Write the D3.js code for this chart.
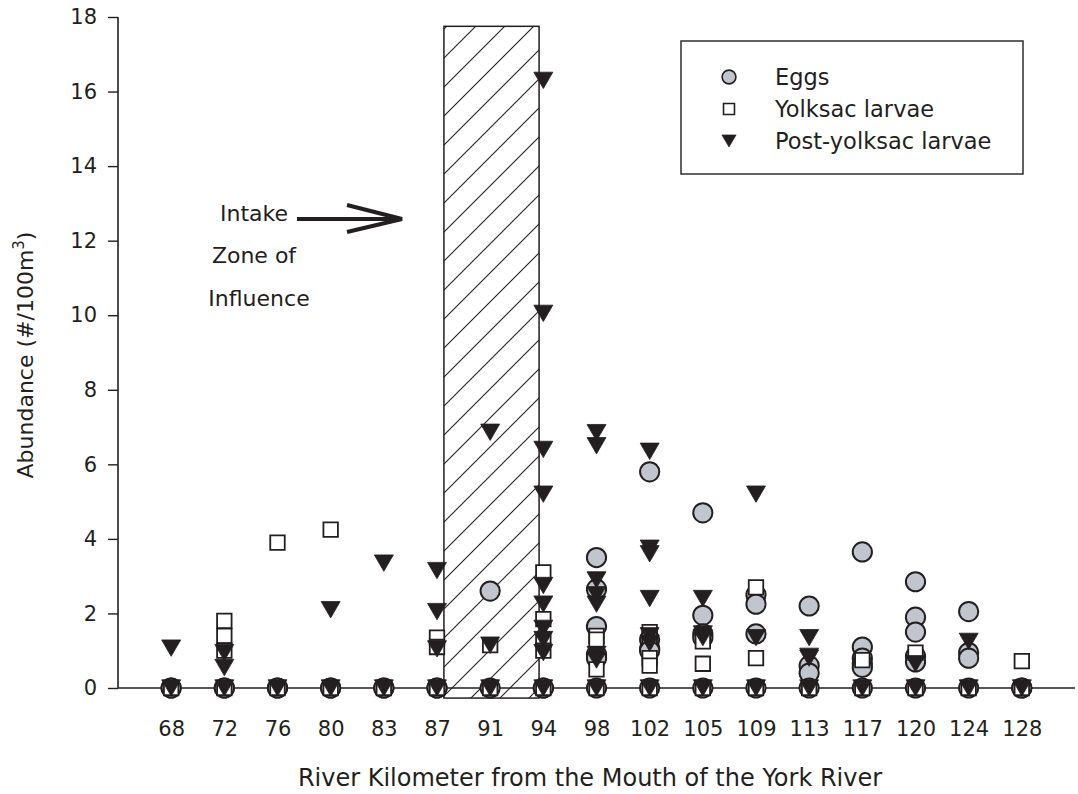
<!DOCTYPE html>
<html>
<head>
<meta charset="utf-8">
<script src="https://cdn.jsdelivr.net/npm/d3@7"></script>
<style>
  body { margin: 0; background: #fff; }
  svg text { font-family: "DejaVu Sans", sans-serif; fill: #231f20; }
</style>
</head>
<body>
<svg id="chart" width="1078" height="794"></svg>
<script>
// River kilometres (categorical axis)
const kms = ["68", "72", "76", "80", "83", "87", "91", "94", "98", "102", "105", "109", "113", "117", "120", "124", "128"];
const yTicks = [0, 2, 4, 6, 8, 10, 12, 14, 16, 18];

// Abundance values (#/100m3) per km
const eggs = {
  "68": [0, 0], "72": [0, 0], "76": [0, 0], "80": [0, 0], "83": [0, 0], "87": [0, 0],
  "91": [2.6, 0], "94": [0, 0],
  "98": [3.5, 2.65, 1.65, 0.9, 0.8, 0],
  "102": [5.8, 1.3, 1.05, 1.0, 0],
  "105": [4.7, 1.95, 1.45, 1.35, 0],
  "109": [2.5, 2.25, 1.45, 0],
  "113": [2.2, 0.6, 0.4, 0],
  "117": [3.65, 1.1, 0.8, 0.65, 0.55, 0],
  "120": [2.85, 1.9, 1.5, 0.85, 0.7, 0],
  "124": [2.05, 0.95, 0.8, 0],
  "128": [0, 0]
};
const yolksac = {
  "68": [0], "72": [1.8, 1.4, 1.0, 0], "76": [3.9, 0], "80": [4.25, 0], "83": [0],
  "87": [1.35, 1.1, 0], "91": [1.15, 0], "94": [3.1, 1.85, 1.3, 1.0, 0],
  "98": [1.4, 1.3, 0.5, 0], "102": [1.5, 1.4, 0.8, 0.6, 0], "105": [1.25, 0.65, 0],
  "109": [2.7, 0.8, 0], "113": [0], "117": [0.75, 0], "120": [0.95, 0], "124": [0],
  "128": [0.72, 0]
};
const postYolksac = {
  "68": [1.07, 0], "72": [0.95, 0.55, 0], "76": [0], "80": [2.1, 0], "83": [3.35, 0],
  "87": [3.15, 2.05, 1.05, 0], "91": [6.86, 1.15, 0],
  "94": [16.3, 10.05, 6.4, 5.2, 2.75, 2.25, 1.6, 1.3, 0.95, 0],
  "98": [6.85, 6.5, 2.9, 2.5, 2.25, 0.9, 0.75, 0],
  "102": [6.35, 3.75, 3.6, 2.4, 1.4, 1.2, 0],
  "105": [2.4, 1.45, 1.35, 0], "109": [5.2, 1.35, 0],
  "113": [1.35, 0.85, 0.8, 0], "117": [0], "120": [0.65, 0], "124": [1.25, 0], "128": [0]
};

// Intake zone of influence: between km 87 and 94 (fractions of a category step)
const zone = { fromKm: "87", fromFrac: 0.13, toKm: "91", toFrac: 0.92, bottom: -0.27, top: 17.75 };

const ink = "#231f20";
const eggFill = "#c1c5cd";

const svg = d3.select("#chart");
const x = d3.scalePoint().domain(kms).range([118, 1075]).padding(1);
const y = d3.scaleLinear().domain([0, 18]).range([688, 17]);

// hatch pattern
const defs = svg.append("defs");
const pat = defs.append("pattern")
  .attr("id", "hatch")
  .attr("patternUnits", "userSpaceOnUse")
  .attr("width", 29).attr("height", 29)
  .attr("x", 0).attr("y", 9);
pat.append("path")
  .attr("d", "M-1,30 L30,-1 M-8,8 L8,-8 M21,37 L37,21")
  .attr("stroke", ink).attr("stroke-width", 1.1);

const zx0 = x(zone.fromKm) + zone.fromFrac * x.step();
const zx1 = x(zone.toKm) + zone.toFrac * x.step();
svg.append("rect")
  .attr("x", zx0).attr("y", y(zone.top))
  .attr("width", zx1 - zx0).attr("height", y(zone.bottom) - y(zone.top))
  .attr("fill", "url(#hatch)")
  .attr("stroke", ink).attr("stroke-width", 1.5);

// axes
const yAxis = svg.append("g")
  .attr("transform", "translate(118,0)")
  .call(d3.axisLeft(y).tickValues(yTicks).tickSize(10).tickPadding(11).tickSizeOuter(0));
const xAxis = svg.append("g")
  .attr("transform", `translate(0,${y(0)})`)
  .call(d3.axisBottom(x).tickSize(0).tickPadding(33).tickSizeOuter(0));
[xAxis, yAxis].forEach(g => {
  g.select(".domain").attr("stroke", ink).attr("stroke-width", 1.6);
  g.selectAll(".tick line").attr("stroke", ink).attr("stroke-width", 1.4);
  g.selectAll(".tick text").attr("font-size", 21).attr("fill", ink)
    .style("font-family", "'DejaVu Sans', sans-serif");
});
xAxis.select(".domain").attr("d", `M118,0H1075`);
yAxis.select(".domain").attr("d", `M0,${y(0)}V${y(18)}`);

// downward triangle
const triDown = {
  draw(ctx, size) {
    const w = Math.sqrt(size) * 0.58, h = Math.sqrt(size) * 0.5;
    ctx.moveTo(-w, -h); ctx.lineTo(w, -h); ctx.lineTo(0, h); ctx.closePath();
  }
};

function flatten(series) {
  const out = [];
  kms.forEach(k => (series[k] || []).forEach(v => out.push({ km: k, v })));
  return out;
}

const marks = svg.append("g");
marks.selectAll("path.egg").data(flatten(eggs)).join("path")
  .attr("class", "egg")
  .attr("d", d3.symbol(d3.symbolCircle, 290))
  .attr("transform", d => `translate(${x(d.km)},${y(d.v)})`)
  .attr("fill", eggFill).attr("stroke", ink).attr("stroke-width", 2);
marks.selectAll("path.yolk").data(flatten(yolksac)).join("path")
  .attr("class", "yolk")
  .attr("d", d3.symbol(d3.symbolSquare, 210))
  .attr("transform", d => `translate(${x(d.km)},${y(d.v)})`)
  .attr("fill", "#fff").attr("stroke", ink).attr("stroke-width", 1.8);
marks.selectAll("path.post").data(flatten(postYolksac)).join("path")
  .attr("class", "post")
  .attr("d", d3.symbol(triDown, 268))
  .attr("transform", d => `translate(${x(d.km)},${y(d.v)})`)
  .attr("fill", ink).attr("stroke", ink).attr("stroke-width", 0.8);

// axis titles
svg.append("text")
  .attr("x", 590).attr("y", 786)
  .attr("text-anchor", "middle").attr("font-size", 24)
  .text("River Kilometer from the Mouth of the York River");
const yt = svg.append("text")
  .attr("transform", "translate(33,355) rotate(-90)")
  .attr("text-anchor", "middle").attr("font-size", 22);
yt.append("tspan").text("Abundance (#/100m");
yt.append("tspan").attr("font-size", 15).attr("dy", -9).text("3");
yt.append("tspan").attr("dy", 9).text(")");

// annotation
const note = svg.append("g").attr("font-size", 22).attr("text-anchor", "middle");
[["Intake", 254, 221], ["Zone of", 254, 263], ["Influence", 259, 306]].forEach(([t, tx, ty]) =>
  note.append("text").attr("x", tx).attr("y", ty).text(t));
svg.append("path")
  .attr("d", "M297,219H400 M347,205L402,219L347,232")
  .attr("fill", "none").attr("stroke", ink).attr("stroke-width", 4);

// legend
const lg = svg.append("g");
lg.append("rect").attr("x", 681).attr("y", 41).attr("width", 342).attr("height", 133)
  .attr("fill", "#fff").attr("stroke", ink).attr("stroke-width", 1.4);
const legendItems = [
  { label: "Eggs", sym: d3.symbolCircle, size: 150, fill: eggFill, sw: 1.6 },
  { label: "Yolksac larvae", sym: d3.symbolSquare, size: 120, fill: "#fff", sw: 1.6 },
  { label: "Post-yolksac larvae", sym: triDown, size: 150, fill: ink, sw: 0.6 }
];
legendItems.forEach((it, i) => {
  const cy = 77 + i * 32;
  lg.append("path").attr("d", d3.symbol(it.sym, it.size))
    .attr("transform", `translate(729,${cy})`)
    .attr("fill", it.fill).attr("stroke", ink).attr("stroke-width", it.sw);
  lg.append("text").attr("x", 775).attr("y", cy + 8).attr("font-size", 22.5).text(it.label);
});
</script>
</body>
</html>
